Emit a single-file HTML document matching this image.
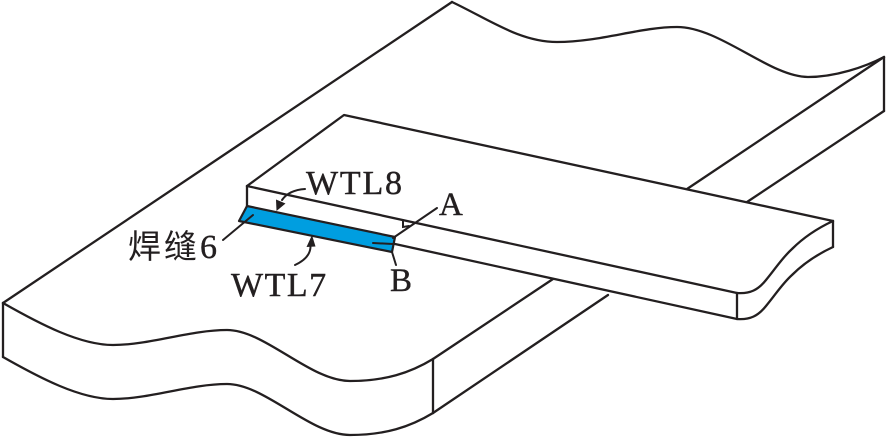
<!DOCTYPE html>
<html>
<head>
<meta charset="utf-8">
<style>
  html, body { margin:0; padding:0; background:#ffffff; }
  body { width:887px; height:437px; overflow:hidden; }
  svg { display:block; }
  .ln { fill:none; stroke:#231f20; stroke-width:2.3; stroke-linejoin:round; stroke-linecap:round; }
  .thin { fill:none; stroke:#231f20; stroke-width:2; stroke-linecap:round; }
  .t { font-family:"Liberation Serif", "Noto Serif CJK SC", serif; fill:#231f20; stroke:#231f20; stroke-width:0.4; }
  .c { font-family:"Liberation Serif", "Noto Sans CJK SC", sans-serif; fill:#231f20; }
</style>
</head>
<body>
<svg width="887" height="437" viewBox="0 0 887 437" xmlns="http://www.w3.org/2000/svg">
  <!-- Base plate: top surface outline -->
  <path class="ln" d="M3,303 L452,2"/>
  <path class="ln" d="M452,2 C490,20 520,42 557,42 C600,42 640,27 677,27 C720,27 770,77 808,77 C835,77 865,67 884,57"/>
  <path class="ln" d="M884,57 L884,111"/>
  <!-- right strip lines (partly hidden by narrow plate) -->
  <path class="ln" d="M884,57 L687,189"/>
  <path class="ln" d="M553,279 L433,359"/>
  <path class="ln" d="M884,111 L747,202"/>
  <path class="ln" d="M608,295 L433,413"/>
  <!-- front wavy face -->
  <path class="ln" d="M3,303 C40,324 80,345 113,345 C150,345 190,330 227,330 C265,330 310,381 350,381 C385,381 410,373 433,359"/>
  <path class="ln" d="M3,357 C40,378 80,399 113,399 C150,399 190,384 227,384 C265,384 310,435 350,435 C385,435 410,427 433,413"/>
  <path class="ln" d="M3,303 L3,357"/>
  <path class="ln" d="M433,359 L433,413"/>

  <!-- Narrow plate -->
  <path class="ln" d="M247,186 L344,115 L833,221"/>
  <path class="ln" d="M247,186 L737,293"/>
  <path class="ln" d="M247,186 L247,206"/>
  <path class="ln" d="M395,244 L737,319"/>
  <path class="ln" d="M737,293 L737,319"/>
  <path class="ln" d="M833,221 L833,247"/>
  <path class="ln" d="M737,293 C750,294 758,290 766,280 C776,268 782,258 792,249 C805,236 818,228 833,221"/>
  <path class="ln" d="M737,319 C750,320 758,316 766,306 C776,294 782,284 792,275 C805,262 818,254 833,247"/>

  <!-- Weld 6 (blue) -->
  <path d="M247,206 L395,237 L392,252 L239,221 Z" fill="#009ee0" stroke="#231f20" stroke-width="2.2" stroke-linejoin="round"/>
  <path class="thin" d="M373,243 L393,244"/>

  <!-- leaders -->
  <path class="thin" d="M253,215 L223,240"/>
  <path class="thin" d="M437,208 L393,238"/>
  <path class="thin" d="M392,252 L396,265"/>
  <path class="thin" d="M403,220 L403,227 L409,226"/>

  <!-- WTL8 arrow -->
  <path class="thin" d="M305,189 Q289,190 282,200"/>
  <path d="M276.5,211 L276,199.5 L285.5,203.5 Z" fill="#231f20"/>
  <!-- WTL7 arrow -->
  <path class="thin" d="M295,265 Q310,258 310.5,247"/>
  <path d="M312,235 L306.5,247 L315.5,246.5 Z" fill="#231f20"/>

  <!-- Labels -->
  <text class="t" x="306" y="194" font-size="34" style="letter-spacing:1.8px">WTL8</text>
  <text class="t" x="231" y="296" font-size="34" style="letter-spacing:1.5px">WTL7</text>
  <text class="t" x="439" y="215" font-size="33">A</text>
  <text class="t" x="390" y="291" font-size="33">B</text>
  <text class="c" x="128" y="258" font-size="33" style="letter-spacing:3px">焊缝<tspan class="t" font-size="34">6</tspan></text>
</svg>
</body>
</html>
